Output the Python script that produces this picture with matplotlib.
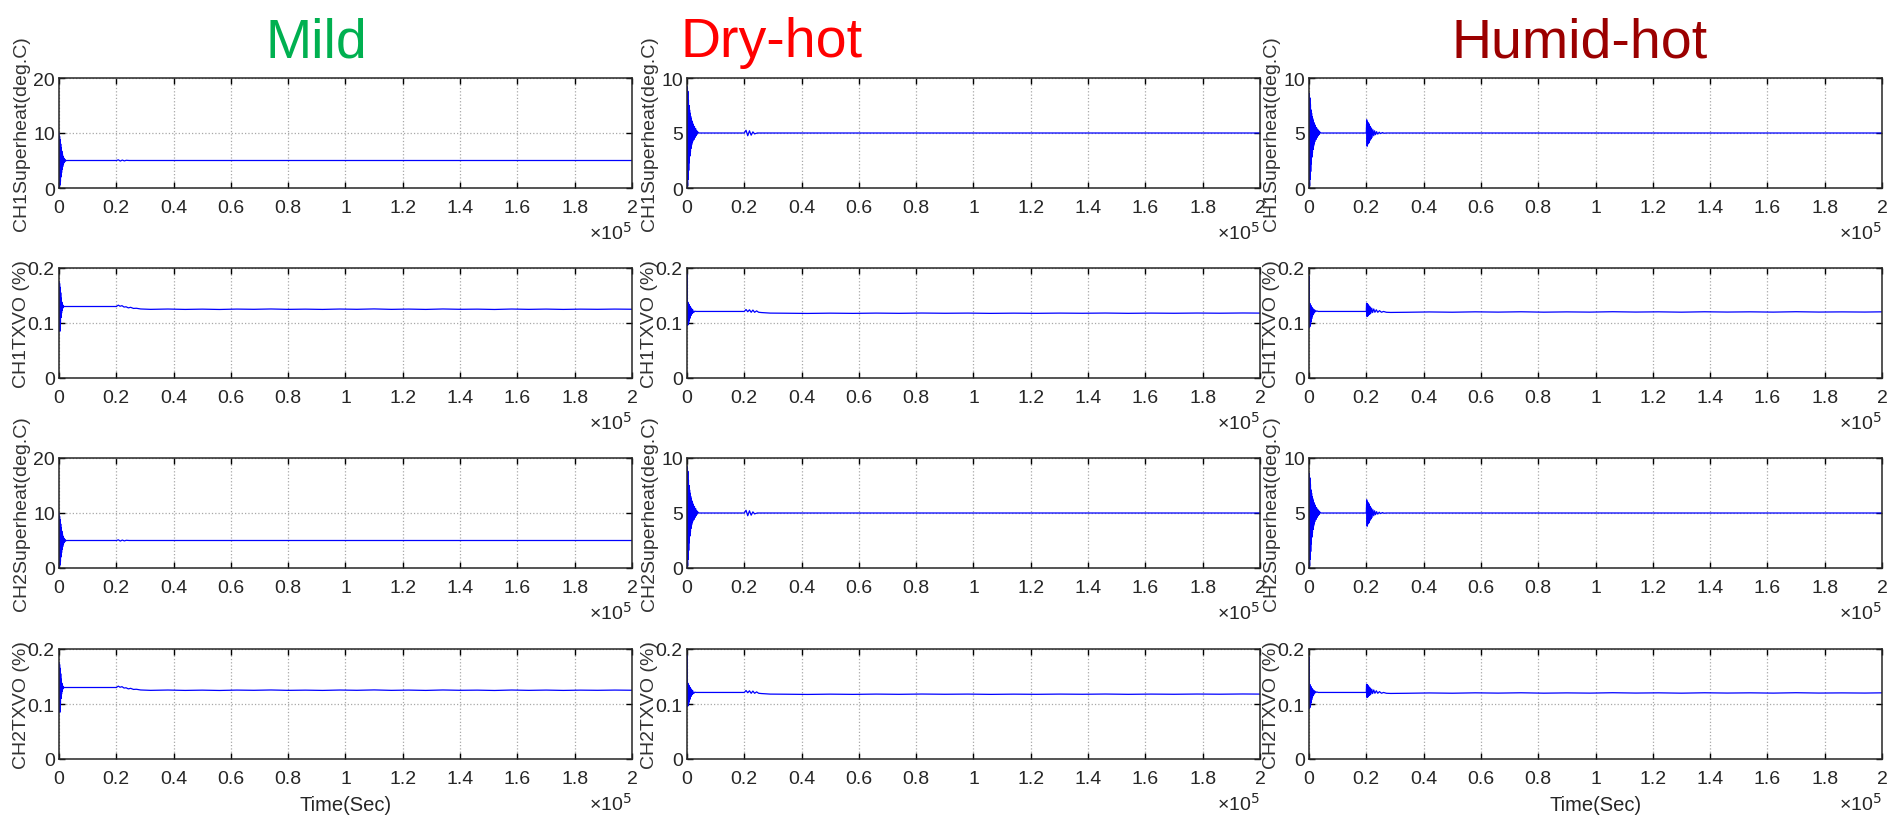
import matplotlib.pyplot as plt
from matplotlib.ticker import FixedLocator

plt.rcParams["font.family"] = ["Liberation Sans", "DejaVu Sans"]
plt.rcParams["mathtext.fontset"] = "custom"
plt.rcParams["mathtext.rm"] = "Liberation Sans Narrow"

# narrow face for tick labels and the time axis text
NARROW = ["Liberation Sans Narrow", "DejaVu Sans Condensed", "Liberation Sans"]

conditions = ["Mild", "Dry-hot", "Humid-hot"]
title_colors = ["#00B050", "#FF0000", "#9B0000"]
row_labels = ["CH1Superheat(deg.C)", "CH1TXVO (%)", "CH2Superheat(deg.C)", "CH2TXVO (%)"]

x_ticks = [0, 20000, 40000, 60000, 80000, 100000, 120000, 140000, 160000, 180000, 200000]
x_tick_labels = ["0", "0.2", "0.4", "0.6", "0.8", "1", "1.2", "1.4", "1.6", "1.8", "2"]

superheat_ticks = {"Mild": [0, 10, 20], "Dry-hot": [0, 5, 10], "Humid-hot": [0, 5, 10]}
superheat_tick_labels = {"Mild": ["0", "10", "20"], "Dry-hot": ["0", "5", "10"], "Humid-hot": ["0", "5", "10"]}
txvo_ticks = [0, 0.1, 0.2]
txvo_tick_labels = ["0", "0.1", "0.2"]

# superheat response (deg.C) vs time (s)
mild_sh_t = [0, 100, 200, 300, 400, 500, 600, 700, 800, 900, 1000, 1100, 1200, 1300, 1400, 1500,
             1600, 1700, 1800, 1900, 2000, 2100, 2200, 2300, 2400, 2500, 2800,
             20000, 20700, 21400, 22100, 22800, 23500, 24500, 200000]
mild_sh_v = [10.0, 0.0, 9.4, 0.5, 8.8, 1.2, 8.0, 2.0, 7.3, 2.8, 6.7, 3.4, 6.2, 3.9, 5.8, 4.3,
             5.5, 4.55, 5.3, 4.75, 5.15, 4.88, 5.08, 4.95, 5.03, 4.98, 5.0,
             5.0, 5.12, 4.9, 5.08, 4.93, 5.04, 5.0, 5.0]

dry_sh_t = [0, 100, 200, 300, 400, 500, 600, 700, 800, 900, 1000, 1100, 1200, 1300, 1400, 1500,
            1600, 1700, 1800, 1900, 2000, 2200, 2400, 2600, 2800, 3000, 3200, 3400, 3600, 3800, 4200,
            20000, 20600, 21200, 21800, 22400, 23000, 23600, 24500, 200000]
dry_sh_v = [0.0, 9.2, 0.2, 8.8, 0.8, 8.0, 1.6, 7.5, 2.3, 7.1, 2.9, 6.8, 3.3, 6.5, 3.6, 6.3,
            3.9, 6.1, 4.1, 5.95, 4.25, 5.8, 4.4, 5.6, 4.6, 5.4, 4.75, 5.2, 4.9, 5.08, 5.0,
            5.0, 5.25, 4.75, 5.2, 4.8, 5.1, 4.92, 5.0, 5.0]

humid_sh_t = [0, 100, 200, 300, 400, 500, 600, 700, 800, 900, 1000, 1100, 1200, 1300, 1400, 1500,
              1600, 1700, 1800, 1900, 2000, 2200, 2400, 2600, 2800, 3000, 3200, 3400, 3600, 3800, 4200,
              20000, 20150, 20300, 20450, 20600, 20750, 20900, 21050, 21200, 21400, 21600, 21800,
              22000, 22300, 22600, 22900, 23200, 23600, 24000, 24500, 25000, 25600, 26200, 27000, 200000]
humid_sh_v = [0.0, 8.6, 0.2, 8.2, 0.8, 7.6, 1.5, 7.1, 2.2, 6.8, 2.8, 6.5, 3.2, 6.3, 3.5, 6.1,
              3.8, 5.95, 4.0, 5.8, 4.2, 5.7, 4.4, 5.5, 4.6, 5.35, 4.75, 5.2, 4.88, 5.08, 5.0,
              5.0, 6.2, 3.8, 6.0, 4.0, 5.9, 4.1, 5.8, 4.3, 5.6, 4.45, 5.45,
              4.6, 5.3, 4.75, 5.2, 4.85, 5.12, 4.9, 5.07, 4.95, 5.04, 4.98, 5.0, 5.0]

# TXV opening (%) vs time (s)
mild_tx_t = [0, 100, 200, 300, 400, 500, 600, 700, 800, 900, 1000, 1100, 1200, 1300, 1400, 1500,
             1800, 2200,
             20000, 20700, 21300, 22000, 22700, 23400, 24200, 25000, 26000, 27000, 28500,
             32000, 38000, 44000, 50000, 56000, 62000, 68000, 74000, 80000, 86000, 92000, 98000,
             104000, 110000, 116000, 122000, 128000, 134000, 140000, 146000, 152000, 158000,
             164000, 170000, 176000, 182000, 188000, 194000, 200000]
mild_tx_v = [0.175, 0.09, 0.172, 0.085, 0.165, 0.1, 0.155, 0.11, 0.145, 0.118, 0.138, 0.123,
             0.134, 0.127, 0.132, 0.129, 0.13, 0.13,
             0.13, 0.1325, 0.1305, 0.1315, 0.129, 0.1295, 0.1275, 0.1285, 0.1265, 0.1268, 0.1255,
             0.1248, 0.1254, 0.1247, 0.1252, 0.1246, 0.1253, 0.1249, 0.1255, 0.1248, 0.1252, 0.1247,
             0.1254, 0.1249, 0.1256, 0.1248, 0.1253, 0.1247, 0.1255, 0.1249, 0.1252, 0.1246,
             0.1254, 0.1248, 0.1253, 0.1247, 0.1252, 0.1249, 0.1253, 0.125]

dry_tx_t = [0, 60, 150, 250, 350, 450, 550, 650, 750, 850, 950, 1050, 1150, 1300, 1450, 1600,
            1800, 2000, 2300, 2700, 3200,
            20000, 20600, 21200, 21800, 22400, 23000, 23600, 24300, 25000, 26000, 27500, 29000,
            34000, 42000, 50000, 58000, 66000, 74000, 82000, 90000, 98000, 106000, 114000,
            122000, 130000, 138000, 146000, 154000, 162000, 170000, 178000, 186000, 194000, 200000]
dry_tx_v = [0.12, 0.189, 0.095, 0.138, 0.097, 0.136, 0.100, 0.134, 0.104, 0.132, 0.108, 0.130,
            0.111, 0.128, 0.114, 0.126, 0.117, 0.124, 0.119, 0.1215, 0.121,
            0.121, 0.1245, 0.1205, 0.124, 0.1195, 0.1235, 0.1195, 0.122, 0.1195, 0.119, 0.1185, 0.118,
            0.1178, 0.1174, 0.1179, 0.1175, 0.118, 0.1176, 0.1181, 0.1177, 0.118, 0.1175, 0.1179,
            0.1176, 0.118, 0.1177, 0.1181, 0.1176, 0.118, 0.1177, 0.1181, 0.1178, 0.1182, 0.118]

humid_tx_t = [0, 60, 150, 250, 350, 450, 550, 650, 750, 850, 950, 1050, 1150, 1300, 1450, 1600,
              1800, 2000, 2300, 2700, 3200,
              20000, 20100, 20250, 20400, 20550, 20700, 20850, 21000, 21200, 21400, 21600, 21900,
              22200, 22600, 23000, 23500, 24000, 24600, 25300, 26000, 27000, 28500,
              34000, 42000, 50000, 58000, 66000, 74000, 82000, 90000, 98000, 106000, 114000,
              122000, 130000, 138000, 146000, 154000, 162000, 170000, 178000, 186000, 194000, 200000]
humid_tx_v = [0.12, 0.185, 0.092, 0.136, 0.094, 0.134, 0.098, 0.132, 0.103, 0.130, 0.108, 0.128,
              0.112, 0.126, 0.115, 0.125, 0.118, 0.1235, 0.1205, 0.122, 0.121,
              0.121, 0.136, 0.112, 0.135, 0.113, 0.133, 0.115, 0.131, 0.116, 0.129, 0.118, 0.127,
              0.119, 0.1255, 0.1195, 0.124, 0.1195, 0.1225, 0.1195, 0.121, 0.1195, 0.1192,
              0.1195, 0.1201, 0.1196, 0.1203, 0.1198, 0.1204, 0.1197, 0.1202, 0.1198, 0.1205, 0.1199,
              0.1203, 0.1197, 0.1204, 0.1199, 0.1203, 0.1198, 0.1205, 0.1199, 0.1202, 0.1199, 0.1203]

superheat = {"Mild": (mild_sh_t, mild_sh_v), "Dry-hot": (dry_sh_t, dry_sh_v), "Humid-hot": (humid_sh_t, humid_sh_v)}
txvo = {"Mild": (mild_tx_t, mild_tx_v), "Dry-hot": (dry_tx_t, dry_tx_v), "Humid-hot": (humid_tx_t, humid_tx_v)}

W, H = 1899, 820
col_left = [59, 687, 1309]
row_top = [79, 269, 459, 650]
ax_w, ax_h = 573, 110
title_x = [316, 772, 1580]
time_label_cols = {"Mild", "Humid-hot"}

fig = plt.figure(figsize=(W / 100, H / 100), dpi=100)

for c, cond in enumerate(conditions):
    fig.text(title_x[c] / W, 1 - 57 / H, cond, color=title_colors[c], fontsize=40,
             ha="center", va="baseline")
    for r, label in enumerate(row_labels):
        ax = fig.add_axes([col_left[c] / W, 1 - (row_top[r] + ax_h) / H, ax_w / W, ax_h / H])
        if r % 2 == 0:
            t, v = superheat[cond]
            yt, ytl = superheat_ticks[cond], superheat_tick_labels[cond]
        else:
            t, v = txvo[cond]
            yt, ytl = txvo_ticks, txvo_tick_labels
        ax.plot(t, v, color="#0000FF", lw=0.9)

        ax.set_xlim(0, 200000)
        ax.set_ylim(yt[0], yt[-1])
        ax.xaxis.set_major_locator(FixedLocator(x_ticks))
        ax.set_xticklabels(x_tick_labels, family=NARROW)
        ax.yaxis.set_major_locator(FixedLocator(yt))
        ax.set_yticklabels(ytl, family=NARROW)
        ax.grid(True, color="#a8a8a8", ls=":", lw=0.9)
        ax.tick_params(direction="in", top=True, right=True, length=4, width=1,
                       labelsize=14, labelcolor="#262626")
        ax.tick_params(axis="x", pad=8)
        ax.tick_params(axis="y", pad=3)
        for sp in ax.spines.values():
            sp.set_linewidth(1.1)
            sp.set_color("#262626")

        ax.text(-0.066, 0.5, label, transform=ax.transAxes, rotation=90,
                ha="center", va="center", fontsize=14, color="#333333")
        ax.text(1.0, -0.30, "×10$^{5}$", transform=ax.transAxes, ha="right", va="top",
                fontsize=14, color="#262626", family=NARROW)
        if r == 3 and cond in time_label_cols:
            ax.text(0.5, -0.41, "Time(Sec)", transform=ax.transAxes, ha="center",
                    va="center", fontsize=14.5, color="#262626", family=NARROW)

fig.savefig("out.png", dpi=100)
